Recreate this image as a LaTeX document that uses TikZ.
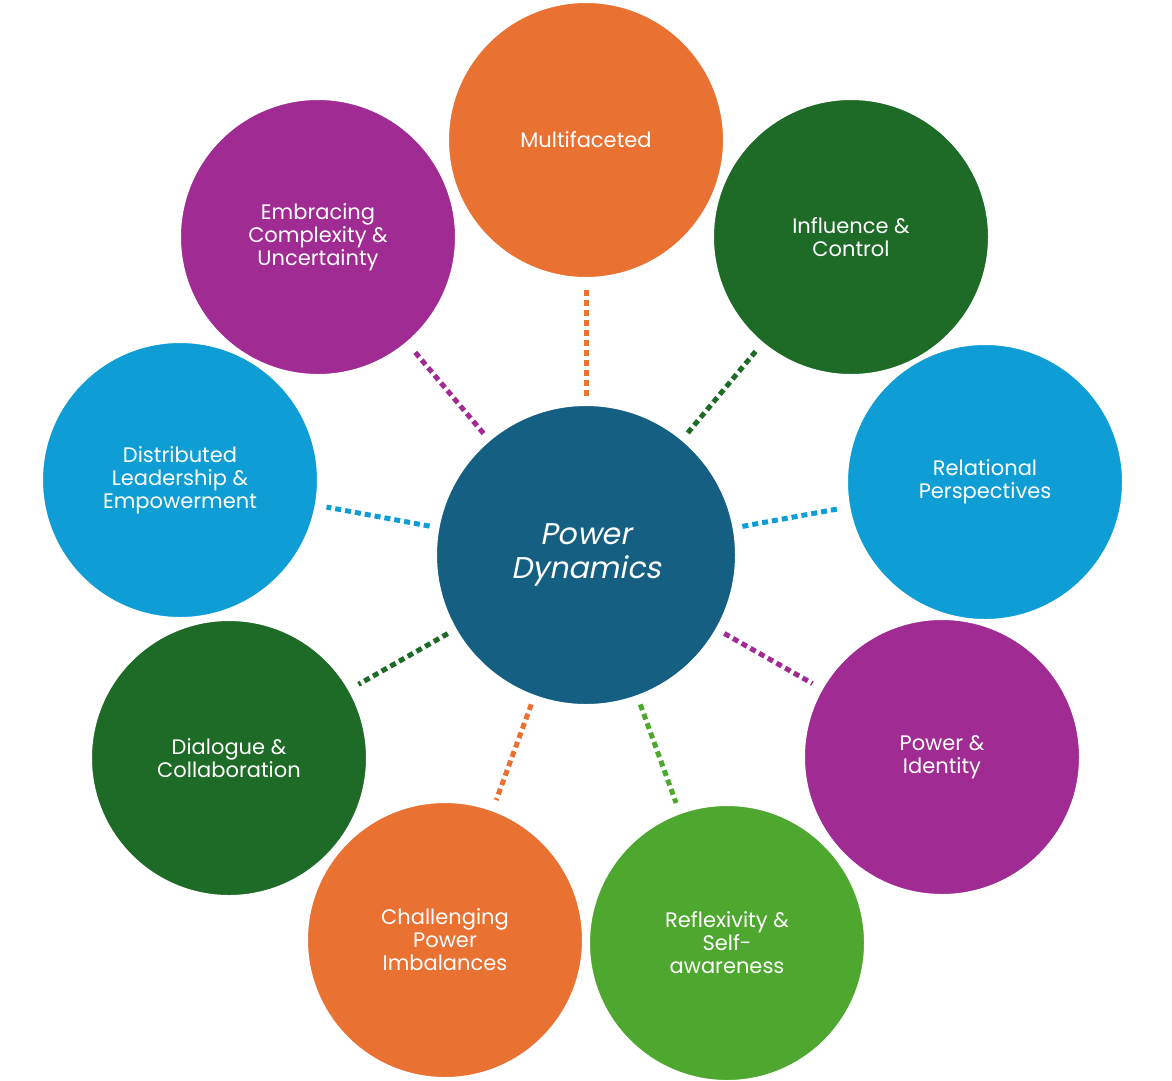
\documentclass[tikz,border=0pt]{standalone}
\usepackage{fontspec}
\setmainfont{Poppins}
\newfontfamily\ctrfont{Poppins}[FakeSlant=0.2]
\definecolor{cor}{HTML}{E97132}
\definecolor{cdg}{HTML}{1E6B27}
\definecolor{cbl}{HTML}{0E9ED5}
\definecolor{cpu}{HTML}{A02B93}
\definecolor{clg}{HTML}{4EA72E}
\definecolor{cct}{HTML}{156082}
\begin{document}
\begin{tikzpicture}[x=1pt,y=-1pt,
  outer/.style={circle,fill=#1,draw=white,line width=2pt,minimum size=276pt,inner sep=0pt,text=white,align=center,font=\fontsize{21}{23}\selectfont},
  link/.style={draw=#1,line width=5pt,dash pattern=on 6pt off 4pt,shorten >=10pt,shorten <=8pt}]
\useasboundingbox (0,0) rectangle (1172,1080);
\node[outer=cor] (m) at (586,140) {Multifaceted};
\node[outer=cdg] (i) at (851,237) {Influence \&\\Control};
\node[outer=cbl] (r) at (985,482) {Relational\\Perspectives};
\node[outer=cpu] (p) at (942,757) {Power \&\\Identity};
\node[outer=clg] (s) at (727,943) {Reflexivity \&\\Self-\\awareness};
\node[outer=cor] (c) at (445,940) {Challenging\\Power\\Imbalances};
\node[outer=cdg] (d) at (229,758) {Dialogue \&\\Collaboration};
\node[outer=cbl] (l) at (180,480) {Distributed\\Leadership \&\\Empowerment};
\node[outer=cpu] (e) at (318,237) {Embracing\\Complexity \&\\Uncertainty};
\node[circle,fill=cct,draw=white,line width=2pt,minimum size=300pt,inner sep=0pt,text=white,align=center,font=\ctrfont\fontsize{30}{34}\selectfont] (ctr) at (586,555) {Power\\Dynamics};
\draw[link=cor] (ctr) -- (m);
\draw[link=cdg] (ctr) -- (i);
\draw[link=cbl] (ctr) -- (r);
\draw[link=cpu] (ctr) -- (p);
\draw[link=clg] (ctr) -- (s);
\draw[link=cor] (ctr) -- (c);
\draw[link=cdg] (ctr) -- (d);
\draw[link=cbl] (ctr) -- (l);
\draw[link=cpu] (ctr) -- (e);
\end{tikzpicture}
\end{document}
